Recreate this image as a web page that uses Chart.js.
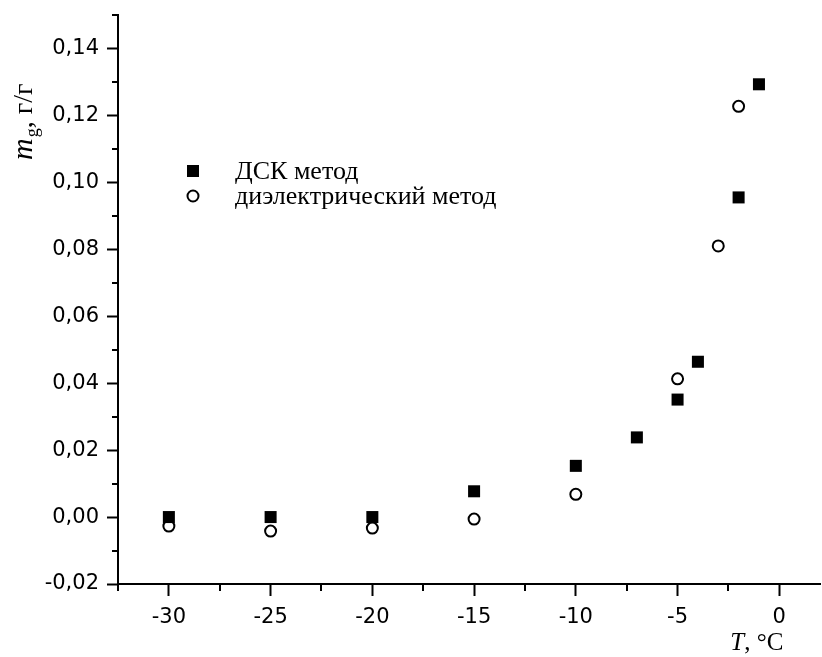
<!DOCTYPE html>
<html>
<head>
<meta charset="utf-8">
<script src="https://cdn.jsdelivr.net/npm/chart.js@4"></script>
<style>
  html, body { margin: 0; padding: 0; background: #fff; overflow: hidden; }
  #wrap { width: 822px; height: 657px; }
</style>
</head>
<body>
<div id="wrap"><canvas id="chart"></canvas></div>
<script>
// ДСК метод (squares)
var dscT = [-30, -25, -20, -15, -10, -7, -5, -4, -2, -1];
var dscM = [0, 0, 0, 0.0077, 0.0153, 0.0238, 0.0351, 0.0464, 0.0955, 0.1293];

// диэлектрический метод (open circles)
var dielT = [-30, -25, -20, -15, -10, -5, -3, -2];
var dielM = [-0.0027, -0.0042, -0.0033, -0.0006, 0.0068, 0.0413, 0.081, 0.1227];

var seriesNames = ['ДСК метод', 'диэлектрический метод'];

// minor tick values
var xMinorTicks = [-32.5, -27.5, -22.5, -17.5, -12.5, -7.5, -2.5];
var yMinorTicks = [-0.01, 0.01, 0.03, 0.05, 0.07, 0.09, 0.11, 0.13, 0.15];

function toPoints(xs, ys) {
    return xs.map(function(x, i) { return { x: x, y: ys[i] }; });
}

var overlay = {
    id: 'overlay',
    afterDraw: function(chart) {
        var ctx = chart.ctx;
        var xs = chart.scales.x, ys = chart.scales.y;
        var area = chart.chartArea;

        ctx.save();
        ctx.strokeStyle = '#000';
        ctx.lineWidth = 2;
        // minor ticks
        xMinorTicks.forEach(function(v) {
            var px = Math.round(xs.getPixelForValue(v));
            ctx.beginPath();
            ctx.moveTo(px, area.bottom);
            ctx.lineTo(px, area.bottom + 7);
            ctx.stroke();
        });
        yMinorTicks.forEach(function(v) {
            var py = Math.round(ys.getPixelForValue(v));
            ctx.beginPath();
            ctx.moveTo(area.left, py);
            ctx.lineTo(area.left - 6, py);
            ctx.stroke();
        });

        // legend
        ctx.fillStyle = '#000';
        var lx = area.left + 75;
        var ly1 = area.top + 156, ly2 = area.top + 181;
        ctx.fillRect(lx - 6, ly1 - 6, 12, 12);
        ctx.beginPath();
        ctx.arc(lx, ly2, 5.5, 0, Math.PI * 2);
        ctx.stroke();
        ctx.font = '26px "Liberation Serif"';
        ctx.textBaseline = 'alphabetic';
        ctx.textAlign = 'left';
        ctx.fillText(seriesNames[0], area.left + 117, ly1 + 8);
        ctx.fillText(seriesNames[1], area.left + 117, ly2 + 8);

        // x axis title: T, °C
        ctx.font = 'italic 25px "Liberation Serif"';
        var wT = ctx.measureText('T').width;
        ctx.font = '25px "Liberation Serif"';
        var wRest = ctx.measureText(', °C').width;
        var xStart = xs.getPixelForValue(0) + 4 - wT - wRest;
        var yBase = area.bottom + 66;
        ctx.font = 'italic 25px "Liberation Serif"';
        ctx.fillText('T', xStart, yBase);
        ctx.font = '25px "Liberation Serif"';
        ctx.fillText(', °C', xStart + wT, yBase);

        // y axis title: m_g, г/г
        ctx.translate(32, area.top + 145);
        ctx.rotate(-Math.PI / 2);
        ctx.font = 'italic 30px "Liberation Serif"';
        ctx.fillText('m', 0, 0);
        var wm = ctx.measureText('m').width;
        ctx.font = '18px "Liberation Serif"';
        ctx.fillText('g', wm + 1, 6);
        var wg = ctx.measureText('g').width;
        ctx.font = '28px "Liberation Serif"';
        ctx.fillText(', г/г', wm + wg + 1, 0);
        ctx.restore();
    }
};

var ctx = document.getElementById('chart').getContext('2d');
var chart = new Chart(ctx, {
    type: 'scatter',
    data: {
        datasets: [
            {
                label: seriesNames[0],
                data: toPoints(dscT, dscM),
                pointStyle: 'rect',
                pointRadius: 8.5,
                pointHoverRadius: 8.5,
                backgroundColor: '#000',
                borderColor: '#000',
                borderWidth: 0
            },
            {
                label: seriesNames[1],
                data: toPoints(dielT, dielM),
                pointStyle: 'circle',
                pointRadius: 5.5,
                pointHoverRadius: 5.5,
                backgroundColor: '#fff',
                borderColor: '#000',
                borderWidth: 2
            }
        ]
    },
    options: {
        responsive: true,
        maintainAspectRatio: false,
        animation: false,
        layout: { autoPadding: false, padding: { top: 15, right: 2, left: 0, bottom: 0 } },
        plugins: {
            legend: { display: false },
            tooltip: { enabled: false }
        },
        scales: {
            x: {
                type: 'linear',
                min: -32.5,
                max: 2,
                border: { color: '#000', width: 2 },
                grid: { drawOnChartArea: false, tickLength: 12, tickWidth: 2, tickColor: '#000' },
                ticks: {
                    stepSize: 5,
                    includeBounds: false,
                    color: '#000',
                    padding: 9,
                    maxRotation: 0,
                    font: { family: 'DejaVu Sans', size: 21 }
                },
                afterFit: function(s) {
                    s.height = 73;
                    s.paddingLeft = 0;
                    s.paddingRight = 0;
                }
            },
            y: {
                type: 'linear',
                min: -0.02,
                max: 0.15,
                border: { color: '#000', width: 2 },
                grid: { drawOnChartArea: false, tickLength: 11, tickWidth: 2, tickColor: '#000' },
                ticks: {
                    stepSize: 0.02,
                    includeBounds: false,
                    color: '#000',
                    padding: 8,
                    font: { family: 'DejaVu Sans', size: 21 },
                    callback: function(v) {
                        var s = (Math.abs(v) < 1e-9 ? 0 : v).toFixed(2);
                        return s.replace('.', ',');
                    }
                },
                afterFit: function(s) {
                    s.width = 118;
                    s.paddingTop = 0;
                    s.paddingBottom = 0;
                }
            }
        }
    },
    plugins: [overlay]
});
</script>
</body>
</html>
